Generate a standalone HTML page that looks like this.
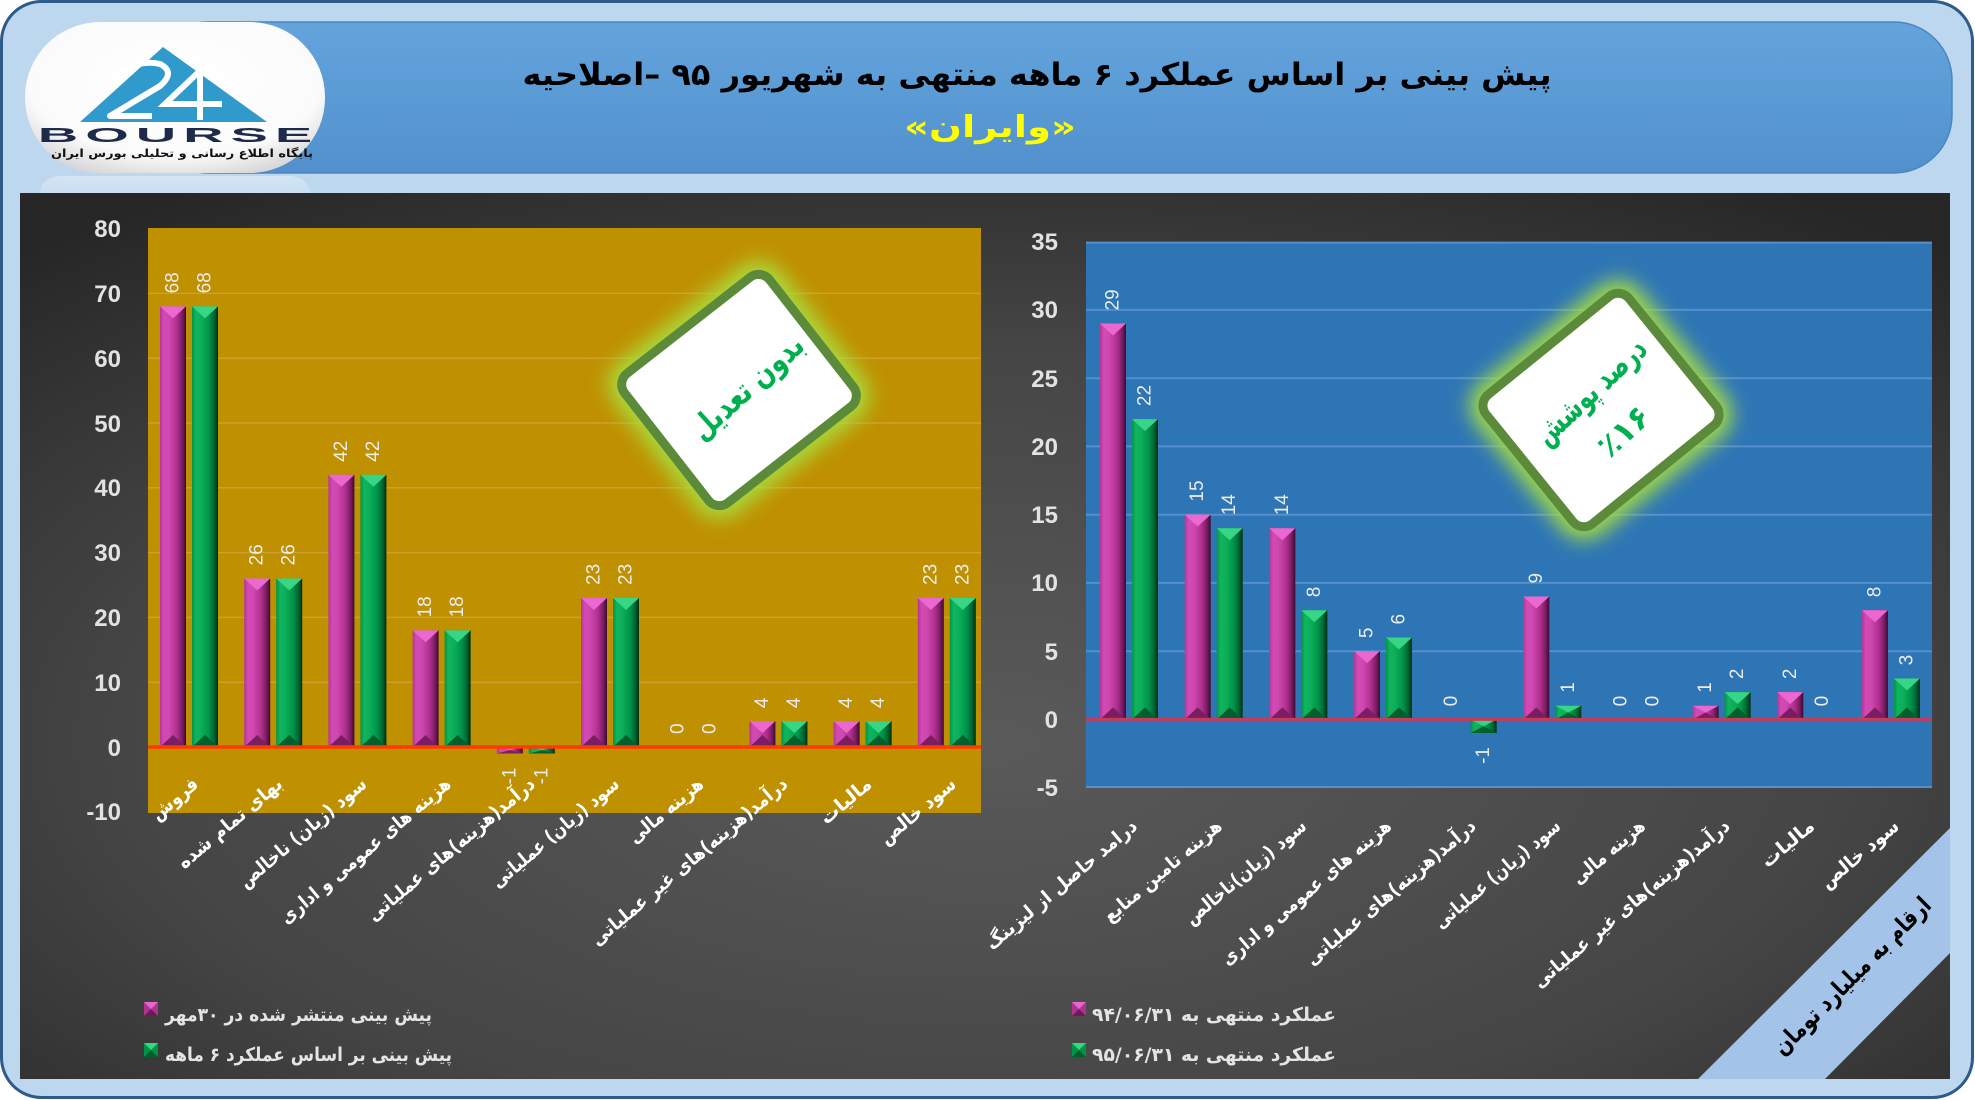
<!DOCTYPE html>
<html><head><meta charset="utf-8"><style>
html,body{margin:0;padding:0;background:#fff;}
body{width:1975px;height:1100px;overflow:hidden;}
svg{display:block;}
.yl{font-family:"Liberation Sans",sans-serif;font-weight:bold;font-size:24px;fill:#e2e2e2;}
.dl{font-family:"Liberation Sans",sans-serif;font-size:19px;fill:#ececec;}
.cat{font-family:"DejaVu Sans",sans-serif;font-weight:bold;font-size:19px;fill:#ffffff;}
.fa{font-family:"DejaVu Sans",sans-serif;font-weight:bold;}
</style></head><body>
<svg width="1975" height="1100" viewBox="0 0 1975 1100" xmlns="http://www.w3.org/2000/svg">
<defs>
<linearGradient id="pk" x1="0" x2="1" y1="0" y2="0">
<stop offset="0" stop-color="#b53595"/><stop offset="0.15" stop-color="#d24bb5"/><stop offset="0.35" stop-color="#cf47b1"/><stop offset="0.65" stop-color="#b0308e"/><stop offset="0.85" stop-color="#7c1d64"/><stop offset="1" stop-color="#3b0930"/>
</linearGradient>
<linearGradient id="gr" x1="0" x2="1" y1="0" y2="0">
<stop offset="0" stop-color="#009447"/><stop offset="0.15" stop-color="#12b45e"/><stop offset="0.35" stop-color="#0caf59"/><stop offset="0.65" stop-color="#00934a"/><stop offset="0.85" stop-color="#006631"/><stop offset="1" stop-color="#002b14"/>
</linearGradient>
<radialGradient id="dark" cx="0.5" cy="0.62" r="0.75">
<stop offset="0" stop-color="#5a5a5a"/><stop offset="0.6" stop-color="#454545"/><stop offset="1" stop-color="#262626"/>
</radialGradient>
<linearGradient id="ban" x1="0" x2="0" y1="0" y2="1">
<stop offset="0" stop-color="#64a3dc"/><stop offset="0.5" stop-color="#5b9bd5"/><stop offset="1" stop-color="#5190cc"/>
</linearGradient>
<radialGradient id="logo" cx="0.5" cy="0.4" r="0.65">
<stop offset="0" stop-color="#ffffff"/><stop offset="0.75" stop-color="#fbfbfb"/><stop offset="1" stop-color="#d8d8d8"/>
</radialGradient>
<linearGradient id="refl" x1="0" x2="0" y1="0" y2="1">
<stop offset="0" stop-color="#ffffff" stop-opacity="0.35"/><stop offset="1" stop-color="#ffffff" stop-opacity="0"/>
</linearGradient>
<filter id="glow" x="-50%" y="-50%" width="200%" height="200%"><feGaussianBlur stdDeviation="10"/></filter>
<polygon id="tt" points="0,0 26,0 13,12"/>
<polygon id="bb" points="0,0 26,0 13,-12"/>
</defs>

<!-- outer frame -->
<rect x="1.5" y="1.5" width="1971" height="1096" rx="40" ry="40" fill="#bdd7ee" stroke="#2f5a8c" stroke-width="3"/>

<!-- banner -->
<rect x="150" y="22" width="1802" height="151" rx="58" ry="58" fill="url(#ban)" stroke="#4a86c0" stroke-width="1.5"/>

<!-- logo -->
<rect x="25" y="22" width="300" height="151" rx="75" ry="75" fill="url(#logo)"/>
<rect x="40" y="176" width="270" height="34" rx="20" fill="url(#refl)"/>
<polygon points="163,47 80,122 267,122" fill="#2f9acb"/>
<path d="M112 80 Q135 58 160 64 Q176 72 160 86 L110 116 L152 116" fill="none" stroke="#ffffff" stroke-width="6" stroke-linejoin="round"/>
<path d="M205 66 L165 104 L222 104 M200 72 L200 120" fill="none" stroke="#ffffff" stroke-width="6"/>
<g transform="translate(175,142) scale(2.8,1)">
<text x="0" y="0" text-anchor="middle" font-family="Liberation Sans, sans-serif" font-weight="bold" font-size="20" fill="#1e2a4a" textLength="98" lengthAdjust="spacing">BOURSE</text>
</g>
<text x="182" y="157" text-anchor="middle" class="fa" font-size="11" fill="#111" textLength="262" lengthAdjust="spacingAndGlyphs">پایگاه اطلاع رسانی و تحلیلی بورس ایران</text>

<!-- titles -->
<text x="1037" y="85" text-anchor="middle" class="fa" font-size="31" fill="#000" textLength="1029" lengthAdjust="spacingAndGlyphs">پیش بینی بر اساس عملکرد ۶ ماهه منتهی به شهریور ۹۵ –اصلاحیه</text>
<text x="990" y="137" text-anchor="middle" class="fa" font-size="30" fill="#ffff00" textLength="172" lengthAdjust="spacingAndGlyphs">«وایران»</text>

<!-- dark panel -->
<rect x="20" y="193" width="1930" height="886" fill="url(#dark)"/>

<!-- ============ LEFT CHART ============ -->
<rect x="148" y="228" width="833" height="585" fill="#bf9000"/>
<g stroke="#d3a93f" stroke-width="1.5" opacity="0.7">
<line x1="148" y1="293.4" x2="981" y2="293.4"/><line x1="148" y1="358.2" x2="981" y2="358.2"/>
<line x1="148" y1="423" x2="981" y2="423"/><line x1="148" y1="487.8" x2="981" y2="487.8"/>
<line x1="148" y1="552.6" x2="981" y2="552.6"/><line x1="148" y1="617.4" x2="981" y2="617.4"/>
<line x1="148" y1="682.2" x2="981" y2="682.2"/>
</g>
<g class="yl" text-anchor="end">
<text x="121" y="237">80</text><text x="121" y="302">70</text><text x="121" y="367">60</text>
<text x="121" y="432">50</text><text x="121" y="496">40</text><text x="121" y="561">30</text>
<text x="121" y="626">20</text><text x="121" y="691">10</text><text x="121" y="756">0</text>
<text x="121" y="820">-10</text>
</g>

<!-- left bars -->
<g>
<rect x="160" y="306.4" width="26" height="440.6" fill="url(#pk)"/><use href="#tt" x="160" y="306.4" fill="#ea68cf"/><use href="#bb" x="160" y="747" fill="#7a1e62"/>
<rect x="192" y="306.4" width="26" height="440.6" fill="url(#gr)"/><use href="#tt" x="192" y="306.4" fill="#36d686"/><use href="#bb" x="192" y="747" fill="#005f2c"/>

<rect x="244.2" y="578.5" width="26" height="168.5" fill="url(#pk)"/><use href="#tt" x="244.2" y="578.5" fill="#ea68cf"/><use href="#bb" x="244.2" y="747" fill="#7a1e62"/>
<rect x="276.2" y="578.5" width="26" height="168.5" fill="url(#gr)"/><use href="#tt" x="276.2" y="578.5" fill="#36d686"/><use href="#bb" x="276.2" y="747" fill="#005f2c"/>

<rect x="328.4" y="474.8" width="26" height="272.2" fill="url(#pk)"/><use href="#tt" x="328.4" y="474.8" fill="#ea68cf"/><use href="#bb" x="328.4" y="747" fill="#7a1e62"/>
<rect x="360.4" y="474.8" width="26" height="272.2" fill="url(#gr)"/><use href="#tt" x="360.4" y="474.8" fill="#36d686"/><use href="#bb" x="360.4" y="747" fill="#005f2c"/>

<rect x="412.6" y="630.4" width="26" height="116.6" fill="url(#pk)"/><use href="#tt" x="412.6" y="630.4" fill="#ea68cf"/><use href="#bb" x="412.6" y="747" fill="#7a1e62"/>
<rect x="444.6" y="630.4" width="26" height="116.6" fill="url(#gr)"/><use href="#tt" x="444.6" y="630.4" fill="#36d686"/><use href="#bb" x="444.6" y="747" fill="#005f2c"/>

<rect x="496.8" y="747" width="26" height="6.5" fill="url(#pk)"/><polygon points="496.8,747 522.8,747 509.8,750.2" fill="#ea68cf"/><polygon points="496.8,753.5 522.8,753.5 509.8,750.2" fill="#7a1e62"/>
<rect x="528.8" y="747" width="26" height="6.5" fill="url(#gr)"/><polygon points="528.8,747 554.8,747 541.8,750.2" fill="#36d686"/><polygon points="528.8,753.5 554.8,753.5 541.8,750.2" fill="#005f2c"/>

<rect x="581" y="598" width="26" height="149" fill="url(#pk)"/><use href="#tt" x="581" y="598" fill="#ea68cf"/><use href="#bb" x="581" y="747" fill="#7a1e62"/>
<rect x="613" y="598" width="26" height="149" fill="url(#gr)"/><use href="#tt" x="613" y="598" fill="#36d686"/><use href="#bb" x="613" y="747" fill="#005f2c"/>

<rect x="749.4" y="721.1" width="26" height="25.9" fill="url(#pk)"/><use href="#tt" x="749.4" y="721.1" fill="#ea68cf"/><use href="#bb" x="749.4" y="747" fill="#7a1e62"/>
<rect x="781.4" y="721.1" width="26" height="25.9" fill="url(#gr)"/><use href="#tt" x="781.4" y="721.1" fill="#36d686"/><use href="#bb" x="781.4" y="747" fill="#005f2c"/>

<rect x="833.6" y="721.1" width="26" height="25.9" fill="url(#pk)"/><use href="#tt" x="833.6" y="721.1" fill="#ea68cf"/><use href="#bb" x="833.6" y="747" fill="#7a1e62"/>
<rect x="865.6" y="721.1" width="26" height="25.9" fill="url(#gr)"/><use href="#tt" x="865.6" y="721.1" fill="#36d686"/><use href="#bb" x="865.6" y="747" fill="#005f2c"/>

<rect x="917.8" y="598" width="26" height="149" fill="url(#pk)"/><use href="#tt" x="917.8" y="598" fill="#ea68cf"/><use href="#bb" x="917.8" y="747" fill="#7a1e62"/>
<rect x="949.8" y="598" width="26" height="149" fill="url(#gr)"/><use href="#tt" x="949.8" y="598" fill="#36d686"/><use href="#bb" x="949.8" y="747" fill="#005f2c"/>
</g>
<line x1="148" y1="747" x2="981" y2="747" stroke="#ff3a00" stroke-width="3.5"/>

<!-- left data labels -->
<g class="dl" dominant-baseline="central">
<text transform="translate(173,293.4) rotate(-90)">68</text><text transform="translate(205,293.4) rotate(-90)">68</text>
<text transform="translate(257.2,565.5) rotate(-90)">26</text><text transform="translate(289.2,565.5) rotate(-90)">26</text>
<text transform="translate(341.4,461.8) rotate(-90)">42</text><text transform="translate(373.4,461.8) rotate(-90)">42</text>
<text transform="translate(425.6,617.4) rotate(-90)">18</text><text transform="translate(457.6,617.4) rotate(-90)">18</text>
<text transform="translate(509.8,767.5) rotate(-90)" text-anchor="end">-1</text><text transform="translate(541.8,767.5) rotate(-90)" text-anchor="end">-1</text>
<text transform="translate(594,585) rotate(-90)">23</text><text transform="translate(626,585) rotate(-90)">23</text>
<text transform="translate(678.2,734) rotate(-90)">0</text><text transform="translate(710.2,734) rotate(-90)">0</text>
<text transform="translate(762.4,708.1) rotate(-90)">4</text><text transform="translate(794.4,708.1) rotate(-90)">4</text>
<text transform="translate(846.6,708.1) rotate(-90)">4</text><text transform="translate(878.6,708.1) rotate(-90)">4</text>
<text transform="translate(930.8,585) rotate(-90)">23</text><text transform="translate(962.8,585) rotate(-90)">23</text>
</g>

<!-- left category labels -->
<g class="cat" text-anchor="end">
<text x="199.5" y="786" transform="rotate(-40 199.5 786)" textLength="55" lengthAdjust="spacingAndGlyphs">فروش</text>
<text x="283.7" y="786" transform="rotate(-40 283.7 786)" textLength="130" lengthAdjust="spacingAndGlyphs">بهای تمام شده</text>
<text x="367.9" y="786" transform="rotate(-40 367.9 786)" textLength="160" lengthAdjust="spacingAndGlyphs">سود (زیان) ناخالص</text>
<text x="452.1" y="786" transform="rotate(-40 452.1 786)" textLength="216" lengthAdjust="spacingAndGlyphs">هزینه های عمومی و اداری</text>
<text x="536.3" y="786" transform="rotate(-40 536.3 786)" textLength="212" lengthAdjust="spacingAndGlyphs">درآمد(هزینه)های عملیاتی</text>
<text x="620.5" y="786" transform="rotate(-40 620.5 786)" textLength="160" lengthAdjust="spacingAndGlyphs">سود (زیان) عملیاتی</text>
<text x="704.7" y="786" transform="rotate(-40 704.7 786)" textLength="91" lengthAdjust="spacingAndGlyphs">هزینه مالی</text>
<text x="788.9" y="786" transform="rotate(-40 788.9 786)" textLength="250" lengthAdjust="spacingAndGlyphs">درآمد(هزینه)های غیر عملیاتی</text>
<text x="873.1" y="786" transform="rotate(-40 873.1 786)" textLength="61" lengthAdjust="spacingAndGlyphs">مالیات</text>
<text x="957.3" y="786" transform="rotate(-40 957.3 786)" textLength="93" lengthAdjust="spacingAndGlyphs">سود خالص</text>
</g>

<!-- left diamond -->
<g transform="translate(739,390) rotate(-38)">
<rect x="-92" y="-82" width="184" height="164" rx="14" fill="none" stroke="#a8e040" stroke-width="26" filter="url(#glow)"/>
<rect x="-92" y="-82" width="184" height="164" rx="14" fill="#ffffff" stroke="#5b8a3a" stroke-width="9"/>
<text x="8" y="14" transform="rotate(-4)" text-anchor="middle" class="fa" font-size="32" fill="#00b050" textLength="140" lengthAdjust="spacingAndGlyphs">بدون تعدیل</text>
</g>

<!-- left legend -->
<rect x="144" y="1002" width="14" height="14" fill="#b0328f"/><polygon points="144,1002 158,1002 151,1009" fill="#e468c9"/><polygon points="144,1016 158,1016 151,1009" fill="#6d1a58"/>
<rect x="144" y="1043" width="14" height="14" fill="#009447"/><polygon points="144,1043 158,1043 151,1050" fill="#35d685"/><polygon points="144,1057 158,1057 151,1050" fill="#005f2c"/>
<text x="165" y="1021" class="fa" font-size="19" fill="#e4e4e4" textLength="267" lengthAdjust="spacingAndGlyphs">پیش بینی منتشر شده در ۳۰مهر</text>
<text x="165" y="1061" class="fa" font-size="19" fill="#e4e4e4" textLength="287" lengthAdjust="spacingAndGlyphs">پیش بینی بر اساس عملکرد ۶ ماهه</text>

<!-- ============ RIGHT CHART ============ -->
<rect x="1086" y="242" width="846" height="546" fill="#2e75b6"/>
<g stroke="#5590cc" stroke-width="2">
<line x1="1086" y1="242.6" x2="1932" y2="242.6"/><line x1="1086" y1="309.9" x2="1932" y2="309.9"/>
<line x1="1086" y1="378.2" x2="1932" y2="378.2"/><line x1="1086" y1="446.4" x2="1932" y2="446.4"/>
<line x1="1086" y1="514.7" x2="1932" y2="514.7"/><line x1="1086" y1="582.9" x2="1932" y2="582.9"/>
<line x1="1086" y1="651.2" x2="1932" y2="651.2"/><line x1="1086" y1="787" x2="1932" y2="787"/>
</g>
<g class="yl" text-anchor="end">
<text x="1058" y="250">35</text><text x="1058" y="318">30</text><text x="1058" y="387">25</text>
<text x="1058" y="455">20</text><text x="1058" y="523">15</text><text x="1058" y="591">10</text>
<text x="1058" y="660">5</text><text x="1058" y="728">0</text><text x="1058" y="796">-5</text>
</g>

<!-- right bars -->
<g>
<rect x="1100" y="323.55" width="26" height="395.85" fill="url(#pk)"/><use href="#tt" x="1100" y="323.55" fill="#ea68cf"/><use href="#bb" x="1100" y="719.4" fill="#7a1e62"/>
<rect x="1132" y="419.1" width="26" height="300.3" fill="url(#gr)"/><use href="#tt" x="1132" y="419.1" fill="#36d686"/><use href="#bb" x="1132" y="719.4" fill="#005f2c"/>

<rect x="1184.66" y="514.65" width="26" height="204.75" fill="url(#pk)"/><use href="#tt" x="1184.66" y="514.65" fill="#ea68cf"/><use href="#bb" x="1184.66" y="719.4" fill="#7a1e62"/>
<rect x="1216.66" y="528.3" width="26" height="191.1" fill="url(#gr)"/><use href="#tt" x="1216.66" y="528.3" fill="#36d686"/><use href="#bb" x="1216.66" y="719.4" fill="#005f2c"/>

<rect x="1269.32" y="528.3" width="26" height="191.1" fill="url(#pk)"/><use href="#tt" x="1269.32" y="528.3" fill="#ea68cf"/><use href="#bb" x="1269.32" y="719.4" fill="#7a1e62"/>
<rect x="1301.32" y="610.2" width="26" height="109.2" fill="url(#gr)"/><use href="#tt" x="1301.32" y="610.2" fill="#36d686"/><use href="#bb" x="1301.32" y="719.4" fill="#005f2c"/>

<rect x="1353.98" y="651.15" width="26" height="68.25" fill="url(#pk)"/><use href="#tt" x="1353.98" y="651.15" fill="#ea68cf"/><use href="#bb" x="1353.98" y="719.4" fill="#7a1e62"/>
<rect x="1385.98" y="637.5" width="26" height="81.9" fill="url(#gr)"/><use href="#tt" x="1385.98" y="637.5" fill="#36d686"/><use href="#bb" x="1385.98" y="719.4" fill="#005f2c"/>

<rect x="1470.64" y="719.4" width="26" height="13.65" fill="url(#gr)"/><polygon points="1470.64,719.4 1496.64,719.4 1483.64,726.2" fill="#36d686"/><polygon points="1470.64,733.05 1496.64,733.05 1483.64,726.2" fill="#005f2c"/>

<rect x="1523.3" y="596.55" width="26" height="122.85" fill="url(#pk)"/><use href="#tt" x="1523.3" y="596.55" fill="#ea68cf"/><use href="#bb" x="1523.3" y="719.4" fill="#7a1e62"/>
<rect x="1555.3" y="705.75" width="26" height="13.65" fill="url(#gr)"/><polygon points="1555.3,705.75 1581.3,705.75 1568.3,712.6" fill="#36d686"/><polygon points="1555.3,719.4 1581.3,719.4 1568.3,712.6" fill="#005f2c"/>

<rect x="1692.62" y="705.75" width="26" height="13.65" fill="url(#pk)"/><polygon points="1692.62,705.75 1718.62,705.75 1705.62,712.6" fill="#ea68cf"/><polygon points="1692.62,719.4 1718.62,719.4 1705.62,712.6" fill="#7a1e62"/>
<rect x="1724.62" y="692.1" width="26" height="27.3" fill="url(#gr)"/><use href="#tt" x="1724.62" y="692.1" fill="#36d686"/><use href="#bb" x="1724.62" y="719.4" fill="#005f2c"/>

<rect x="1777.28" y="692.1" width="26" height="27.3" fill="url(#pk)"/><use href="#tt" x="1777.28" y="692.1" fill="#ea68cf"/><use href="#bb" x="1777.28" y="719.4" fill="#7a1e62"/>

<rect x="1861.94" y="610.2" width="26" height="109.2" fill="url(#pk)"/><use href="#tt" x="1861.94" y="610.2" fill="#ea68cf"/><use href="#bb" x="1861.94" y="719.4" fill="#7a1e62"/>
<rect x="1893.94" y="678.45" width="26" height="40.95" fill="url(#gr)"/><use href="#tt" x="1893.94" y="678.45" fill="#36d686"/><use href="#bb" x="1893.94" y="719.4" fill="#005f2c"/>
</g>
<line x1="1086" y1="719.4" x2="1932" y2="719.4" stroke="#c73a5c" stroke-width="3"/>

<!-- right data labels -->
<g class="dl" dominant-baseline="central">
<text transform="translate(1113,310.5) rotate(-90)">29</text><text transform="translate(1145,406.1) rotate(-90)">22</text>
<text transform="translate(1197.66,501.6) rotate(-90)">15</text><text transform="translate(1229.66,515.3) rotate(-90)">14</text>
<text transform="translate(1282.32,515.3) rotate(-90)">14</text><text transform="translate(1314.32,597.2) rotate(-90)">8</text>
<text transform="translate(1366.98,638.1) rotate(-90)">5</text><text transform="translate(1398.98,624.5) rotate(-90)">6</text>
<text transform="translate(1451.64,706.4) rotate(-90)">0</text><text transform="translate(1483.64,747) rotate(-90)" text-anchor="end">-1</text>
<text transform="translate(1536.3,583.5) rotate(-90)">9</text><text transform="translate(1568.3,692.7) rotate(-90)">1</text>
<text transform="translate(1620.96,706.4) rotate(-90)">0</text><text transform="translate(1652.96,706.4) rotate(-90)">0</text>
<text transform="translate(1705.62,692.7) rotate(-90)">1</text><text transform="translate(1737.62,679.1) rotate(-90)">2</text>
<text transform="translate(1790.28,679.1) rotate(-90)">2</text><text transform="translate(1822.28,706.4) rotate(-90)">0</text>
<text transform="translate(1874.94,597.2) rotate(-90)">8</text><text transform="translate(1906.94,665.4) rotate(-90)">3</text>
</g>

<!-- right category labels -->
<g class="cat" text-anchor="end">
<text x="1138.5" y="828" transform="rotate(-40 1138.5 828)" textLength="191" lengthAdjust="spacingAndGlyphs">درامد حاصل از لیزینگ</text>
<text x="1223.2" y="828" transform="rotate(-40 1223.2 828)" textLength="148" lengthAdjust="spacingAndGlyphs">هزینه تامین منابع</text>
<text x="1307.8" y="828" transform="rotate(-40 1307.8 828)" textLength="152" lengthAdjust="spacingAndGlyphs">سود (زیان)ناخالص</text>
<text x="1392.5" y="828" transform="rotate(-40 1392.5 828)" textLength="215" lengthAdjust="spacingAndGlyphs">هزینه های عمومی و اداری</text>
<text x="1477.1" y="828" transform="rotate(-40 1477.1 828)" textLength="215" lengthAdjust="spacingAndGlyphs">درآمد(هزینه)های عملیاتی</text>
<text x="1561.8" y="828" transform="rotate(-40 1561.8 828)" textLength="158" lengthAdjust="spacingAndGlyphs">سود (زیان) عملیاتی</text>
<text x="1646.5" y="828" transform="rotate(-40 1646.5 828)" textLength="89" lengthAdjust="spacingAndGlyphs">هزینه مالی</text>
<text x="1731.1" y="828" transform="rotate(-40 1731.1 828)" textLength="250" lengthAdjust="spacingAndGlyphs">درآمد(هزینه)های غیر عملیاتی</text>
<text x="1815.8" y="828" transform="rotate(-40 1815.8 828)" textLength="63" lengthAdjust="spacingAndGlyphs">مالیات</text>
<text x="1900.4" y="828" transform="rotate(-40 1900.4 828)" textLength="96" lengthAdjust="spacingAndGlyphs">سود خالص</text>
</g>

<!-- right diamond -->
<g transform="translate(1601,410) rotate(-39)">
<rect x="-92" y="-83" width="184" height="166" rx="14" fill="none" stroke="#a8e040" stroke-width="26" filter="url(#glow)"/>
<rect x="-92" y="-83" width="184" height="166" rx="14" fill="#ffffff" stroke="#5b8a3a" stroke-width="9"/>
<g transform="rotate(-4)">
<text x="5" y="-10" text-anchor="middle" class="fa" font-size="32" fill="#00b050" textLength="140" lengthAdjust="spacingAndGlyphs">درصد پوشش</text>
<text x="2" y="42" text-anchor="middle" class="fa" font-size="32" fill="#00b050">٪۱۶</text>
</g>
</g>

<!-- right legend -->
<rect x="1072" y="1002" width="14" height="14" fill="#b0328f"/><polygon points="1072,1002 1086,1002 1079,1009" fill="#e468c9"/><polygon points="1072,1016 1086,1016 1079,1009" fill="#6d1a58"/>
<rect x="1072" y="1043" width="14" height="14" fill="#009447"/><polygon points="1072,1043 1086,1043 1079,1050" fill="#35d685"/><polygon points="1072,1057 1086,1057 1079,1050" fill="#005f2c"/>
<text x="1092" y="1021" class="fa" font-size="19" fill="#e4e4e4" textLength="244" lengthAdjust="spacingAndGlyphs">عملکرد منتهی به ۹۴/۰۶/۳۱</text>
<text x="1092" y="1061" class="fa" font-size="19" fill="#e4e4e4" textLength="244" lengthAdjust="spacingAndGlyphs">عملکرد منتهی به ۹۵/۰۶/۳۱</text>

<!-- bottom-right stripe -->
<polygon points="1950,828 1950,953 1825,1079 1698,1079" fill="#a3c4e8"/>
<text transform="translate(1852,976) rotate(-45)" y="8" text-anchor="middle" class="fa" font-size="24" fill="#000" textLength="212" lengthAdjust="spacingAndGlyphs">ارقام به میلیارد تومان</text>
</svg>
</body></html>
